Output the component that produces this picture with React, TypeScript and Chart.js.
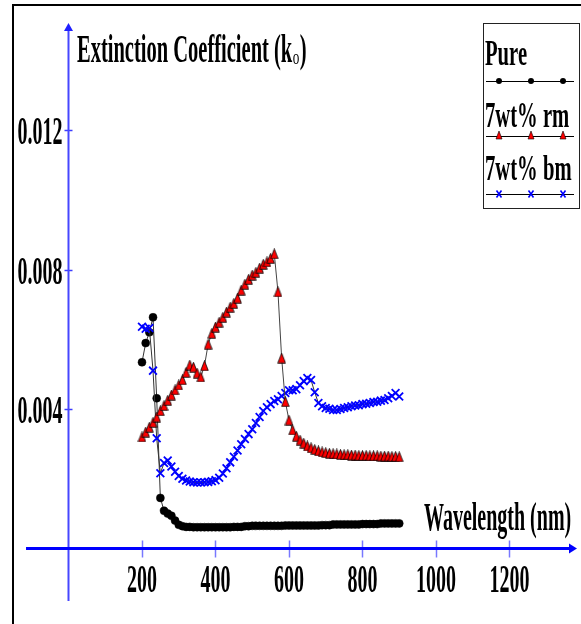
import React, { useEffect, useRef } from 'react';
import { Chart, registerables } from 'chart.js';

Chart.register(...registerables);

// ---------------- data ----------------
const WAVELENGTHS = [
  200, 210, 220, 230, 240, 250, 260, 270, 280, 290,
  300, 310, 320, 330, 340, 350, 360, 370, 380, 390,
  400, 410, 420, 430, 440, 450, 460, 470, 480, 490,
  500, 510, 520, 530, 540, 550, 560, 570, 580, 590,
  600, 610, 620, 630, 640, 650, 660, 670, 680, 690,
  700, 710, 720, 730, 740, 750, 760, 770, 780, 790,
  800, 810, 820, 830, 840, 850, 860, 870, 880, 890,
  900,
];

const PURE = [
  0.00534, 0.00589, 0.0062, 0.00663, 0.00431, 0.00145, 0.00108, 0.001, 0.00094, 0.0008,
  0.00068, 0.00064, 0.00062, 0.00062, 0.00061, 0.00061, 0.00061, 0.00061, 0.00061, 0.00061,
  0.00061, 0.00061, 0.00061, 0.00061, 0.00061, 0.00062, 0.00062, 0.00062, 0.00064, 0.00064,
  0.00065, 0.00065, 0.00065, 0.00065, 0.00065, 0.00065, 0.00065, 0.00065, 0.00065, 0.00066,
  0.00066, 0.00066, 0.00066, 0.00066, 0.00066, 0.00066, 0.00066, 0.00066, 0.00066, 0.00067,
  0.00067, 0.00067, 0.00069, 0.00069, 0.00069, 0.00069, 0.00069, 0.00069, 0.00069, 0.00069,
  0.0007, 0.0007, 0.0007, 0.0007, 0.0007, 0.00072, 0.00072, 0.00072, 0.00072, 0.00072,
  0.00072,
];

const RM = [
  0.0032, 0.00334, 0.00348, 0.00362, 0.00377, 0.00395, 0.0041, 0.00425, 0.0044, 0.00455,
  0.00469, 0.00484, 0.00505, 0.00526, 0.0052, 0.00503, 0.00492, 0.00524, 0.00586, 0.00617,
  0.00635, 0.00649, 0.00663, 0.00678, 0.00692, 0.00703, 0.00718, 0.00741, 0.00758, 0.00772,
  0.00784, 0.00792, 0.00804, 0.00815, 0.00822, 0.00832, 0.00845, 0.00736, 0.00546, 0.00421,
  0.00368, 0.0034, 0.00322, 0.00311, 0.00302, 0.00294, 0.00289, 0.00284, 0.0028, 0.00277,
  0.00275, 0.00273, 0.00272, 0.00271, 0.0027, 0.00269, 0.00269, 0.00268, 0.00268, 0.00267,
  0.00267, 0.00267, 0.00266, 0.00266, 0.00266, 0.00265, 0.00265, 0.00265, 0.00264, 0.00264,
  0.00263,
];

const BM = [
  0.00636, 0.0063, 0.00632, 0.0051, 0.00316, 0.00216, 0.00245, 0.00252, 0.00235, 0.0022,
  0.00208, 0.002, 0.00195, 0.00192, 0.0019, 0.00189, 0.00189, 0.0019, 0.00191, 0.00193,
  0.00196, 0.00203, 0.00215, 0.0023, 0.00247, 0.00263, 0.00281, 0.00299, 0.00314, 0.00328,
  0.00342, 0.0036, 0.00377, 0.00394, 0.00405, 0.00414, 0.00423, 0.00428, 0.00437, 0.00446,
  0.00454, 0.00454, 0.00457, 0.00468, 0.0048, 0.00489, 0.00483, 0.00448, 0.00417, 0.00408,
  0.00403, 0.00401, 0.00397, 0.00397, 0.004, 0.00403, 0.00405, 0.00408, 0.0041, 0.00411,
  0.00414, 0.00415, 0.00417, 0.0042, 0.00421, 0.00424, 0.00426, 0.00431, 0.00437, 0.00446,
  0.00436,
];

const SERIES_LABELS = ['Pure', '7wt% rm', '7wt% bm'];
const X_TICKS = [200, 400, 600, 800, 1000, 1200];
const X_TICK_LABELS = ['200', '400', '600', '800', '1000', '1200'];
const Y_TICKS = [0.004, 0.008, 0.012];
const Y_TICK_LABELS = ['0.004', '0.008', '0.012'];
const X_TITLE = 'Wavelength (nm)';
const Y_TITLE_MAIN = 'Extinction Coefficient (k';
const Y_TITLE_SUB = 'o';
const Y_TITLE_END = ')';

// scale ranges & axis extents (data units)
const X_MIN = -186.4;
const X_MAX = 1394.6;
const Y_MIN = -0.002165;
const Y_MAX = 0.015728;
const X_AXIS_FROM = -115.6;
const X_AXIS_TO = 1383.7;
const Y_AXIS_FROM = -0.001505;
const Y_AXIS_TO = 0.015068;

// ---------------- styles ----------------
const FONT = "'Liberation Serif', 'Times New Roman', serif";

function drawText(
  ctx: CanvasRenderingContext2D,
  s: string,
  x: number,
  y: number,
  size: number,
  sx: number,
  align: CanvasTextAlign,
  weight = 'bold'
): number {
  ctx.save();
  ctx.font = `${weight} ${size}px ${FONT}`;
  ctx.textAlign = align;
  ctx.textBaseline = 'alphabetic';
  ctx.fillStyle = '#000';
  ctx.translate(x, y);
  ctx.scale(sx, 1);
  ctx.fillText(s, 0, 0);
  const w = ctx.measureText(s).width * sx;
  ctx.restore();
  return w;
}

function drawMarker(ctx: CanvasRenderingContext2D, kind: number, x: number, y: number) {
  ctx.save();
  if (kind === 0) {
    ctx.fillStyle = '#000';
    ctx.beginPath();
    ctx.arc(x, y, 3, 0, Math.PI * 2);
    ctx.fill();
  } else if (kind === 1) {
    ctx.fillStyle = '#ff0000';
    ctx.strokeStyle = '#000';
    ctx.lineWidth = 0.6;
    ctx.beginPath();
    ctx.moveTo(x, y - 5);
    ctx.lineTo(x + 3, y + 3);
    ctx.lineTo(x - 3, y + 3);
    ctx.closePath();
    ctx.fill();
    ctx.stroke();
  } else {
    ctx.strokeStyle = '#0000ff';
    ctx.lineWidth = 1.6;
    ctx.beginPath();
    ctx.moveTo(x - 2.5, y - 3.5);
    ctx.lineTo(x + 2.5, y + 3.5);
    ctx.moveTo(x + 2.5, y - 3.5);
    ctx.lineTo(x - 2.5, y + 3.5);
    ctx.stroke();
  }
  ctx.restore();
}

const decor = {
  id: 'decor',
  beforeDatasetsDraw(chart: any) {
    const ctx: CanvasRenderingContext2D = chart.ctx;
    const xs = chart.scales.x;
    const ys = chart.scales.y;
    const x0 = xs.getPixelForValue(0);
    const y0 = ys.getPixelForValue(0);

    ctx.save();
    // outer frame
    ctx.strokeStyle = '#000';
    ctx.lineWidth = 2;
    ctx.beginPath();
    ctx.moveTo(13, 630);
    ctx.lineTo(13, 5);
    ctx.lineTo(590, 5);
    ctx.stroke();

    // x tick marks
    ctx.strokeStyle = '#7878ff';
    ctx.lineWidth = 1.5;
    X_TICKS.forEach((v) => {
      const px = Math.round(xs.getPixelForValue(v)) + 0.5;
      ctx.beginPath();
      ctx.moveTo(px, y0 - 8);
      ctx.lineTo(px, y0 + 9);
      ctx.stroke();
    });
    // y tick marks
    ctx.strokeStyle = '#3c3cff';
    ctx.lineWidth = 1.5;
    Y_TICKS.forEach((v) => {
      const py = Math.round(ys.getPixelForValue(v)) + 0.5;
      ctx.beginPath();
      ctx.moveTo(x0 - 4, py);
      ctx.lineTo(x0 + 4, py);
      ctx.stroke();
    });

    // y axis
    const yTop = ys.getPixelForValue(Y_AXIS_TO);
    const yBot = ys.getPixelForValue(Y_AXIS_FROM);
    ctx.strokeStyle = '#4646ff';
    ctx.fillStyle = '#2020ff';
    ctx.lineWidth = 2;
    ctx.beginPath();
    ctx.moveTo(x0, yBot);
    ctx.lineTo(x0, yTop + 6);
    ctx.stroke();
    ctx.beginPath();
    ctx.moveTo(x0, yTop);
    ctx.lineTo(x0 + 4.5, yTop + 8);
    ctx.lineTo(x0 - 4.5, yTop + 8);
    ctx.closePath();
    ctx.fill();

    // x axis
    const xL = xs.getPixelForValue(X_AXIS_FROM);
    const xR = xs.getPixelForValue(X_AXIS_TO);
    ctx.strokeStyle = '#0000ff';
    ctx.fillStyle = '#0000ff';
    ctx.lineWidth = 3;
    ctx.beginPath();
    ctx.moveTo(xL, y0);
    ctx.lineTo(xR - 6, y0);
    ctx.stroke();
    ctx.beginPath();
    ctx.moveTo(xR, y0);
    ctx.lineTo(xR - 8, y0 - 5);
    ctx.lineTo(xR - 8, y0 + 5);
    ctx.closePath();
    ctx.fill();
    ctx.restore();

    // tick labels
    X_TICKS.forEach((v, i) => {
      drawText(ctx, X_TICK_LABELS[i], xs.getPixelForValue(v), y0 + 44, 40, 0.5, 'center');
    });
    Y_TICKS.forEach((v, i) => {
      drawText(ctx, Y_TICK_LABELS[i], x0 - 6, ys.getPixelForValue(v) + 14, 40, 0.5, 'right');
    });

    // axis titles
    drawText(ctx, X_TITLE, 424, y0 - 18, 40, 0.5, 'left');
    const w1 = drawText(ctx, Y_TITLE_MAIN, 77, 62, 41, 0.5, 'left');
    const w2 = drawText(ctx, Y_TITLE_SUB, 77 + w1 + 0.5, 64, 22, 0.6, 'left', 'normal');
    drawText(ctx, Y_TITLE_END, 77 + w1 + w2 + 1, 62, 41, 0.5, 'left');
  },
  afterDraw(chart: any) {
    const ctx: CanvasRenderingContext2D = chart.ctx;
    ctx.save();
    ctx.strokeStyle = '#222';
    ctx.lineWidth = 1;
    ctx.strokeRect(483.5, 23.5, 96, 185);
    const textY = [65, 127, 180];
    const lineY = [81, 136, 194];
    const mx = [499, 531, 563];
    SERIES_LABELS.forEach((label, i) => {
      drawText(ctx, label, 485, textY[i], 35, 0.59, 'left');
      ctx.strokeStyle = '#000';
      ctx.lineWidth = 1.2;
      ctx.beginPath();
      ctx.moveTo(486, lineY[i] + 0.5);
      ctx.lineTo(574, lineY[i] + 0.5);
      ctx.stroke();
      mx.forEach((x) => drawMarker(ctx, i, x, lineY[i]));
    });
    ctx.restore();
  },
};

export default function App() {
  const ref = useRef<HTMLCanvasElement>(null);

  useEffect(() => {
    const canvas = ref.current;
    if (!canvas) return;

    // tall triangle marker
    const tri = document.createElement('canvas');
    tri.width = 9;
    tri.height = 11;
    const tctx = tri.getContext('2d')!;
    tctx.fillStyle = '#ff0000';
    tctx.strokeStyle = '#000';
    tctx.lineWidth = 0.8;
    tctx.beginPath();
    tctx.moveTo(4.5, 0.5);
    tctx.lineTo(8.3, 10.3);
    tctx.lineTo(0.7, 10.3);
    tctx.closePath();
    tctx.fill();
    tctx.stroke();

    const pts = (arr: number[]) => WAVELENGTHS.map((w, i) => ({ x: w, y: arr[i] }));

    const chart = new Chart(canvas, {
      type: 'scatter',
      data: {
        datasets: [
          {
            label: SERIES_LABELS[0],
            data: pts(PURE),
            showLine: true,
            borderColor: '#333',
            borderWidth: 1,
            pointStyle: 'circle',
            pointRadius: 4,
            pointBackgroundColor: '#000',
            pointBorderColor: '#000',
            pointBorderWidth: 0.5,
            order: 2,
          },
          {
            label: SERIES_LABELS[1],
            data: pts(RM),
            showLine: true,
            borderColor: '#444',
            borderWidth: 1,
            pointStyle: tri as any,
            pointRadius: 4.5,
            order: 0,
          },
          {
            label: SERIES_LABELS[2],
            data: pts(BM),
            showLine: true,
            borderColor: '#333',
            borderWidth: 1,
            pointStyle: 'crossRot',
            pointRadius: 5.5,
            pointBorderColor: '#0000ff',
            pointBackgroundColor: '#0000ff',
            pointBorderWidth: 1.8,
            order: 1,
          },
        ],
      },
      options: {
        responsive: false,
        animation: false,
        events: [],
        layout: { padding: 0, autoPadding: false },
        plugins: {
          legend: { display: false },
          tooltip: { enabled: false },
          title: { display: false },
        },
        scales: {
          x: { type: 'linear', min: X_MIN, max: X_MAX, display: false },
          y: { type: 'linear', min: Y_MIN, max: Y_MAX, display: false },
        },
      },
      plugins: [decor],
    } as any);

    return () => chart.destroy();
  }, []);

  return (
    <div style={{ position: 'fixed', left: 0, top: 0, width: 581, height: 624, background: '#fff' }}>
      <canvas ref={ref} width={581} height={624} style={{ display: 'block', width: 581, height: 624 }} />
    </div>
  );
}
